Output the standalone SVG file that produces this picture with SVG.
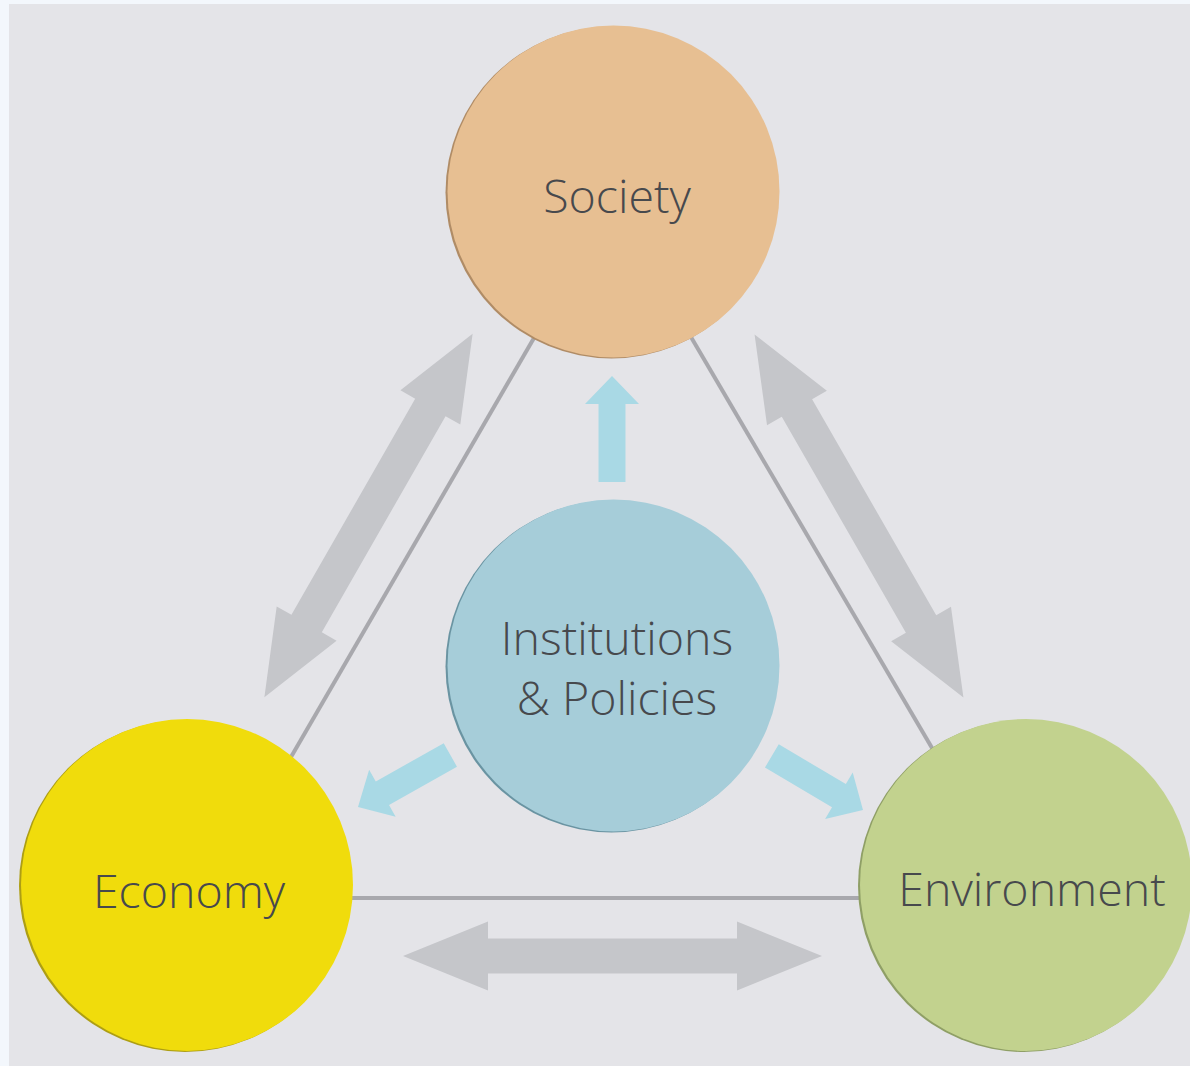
<svg xmlns="http://www.w3.org/2000/svg" width="1190" height="1066" viewBox="0 0 1190 1066">
<defs>
<style>
.lbl{font-family:"Open Sans","Noto Sans","DejaVu Sans",sans-serif;font-size:46.5px;font-weight:340;fill:#47494d;text-anchor:middle}
.tri{stroke:#a8a8ad;stroke-width:4;fill:none}
.garrow{fill:#c5c6ca}
.barrow{fill:#a9d9e5}
</style>
<path id="dbl" d="M-209.5,0 L-124.5,-34.5 L-124.5,-17.5 L124.5,-17.5 L124.5,-34.5 L209.5,0 L124.5,34.5 L124.5,17.5 L-124.5,17.5 L-124.5,34.5 Z"/>
<path id="up" d="M0,0 L27,28 L13.5,28 L13.5,106 L-13.5,106 L-13.5,28 L-27,28 Z"/>
</defs>
<rect x="0" y="0" width="1190" height="1066" fill="#f3f7fc"/>
<rect x="9" y="4" width="1181" height="1062" fill="#e4e4e8"/>
<g id="connectors">
<line class="tri" x1="545" y1="319" x2="280" y2="776"/>
<line class="tri" x1="681" y1="320" x2="942" y2="765"/>
<line class="tri" x1="340" y1="898" x2="875" y2="898"/>
<use href="#dbl" class="garrow" transform="translate(612.5,956)"/>
<use href="#dbl" class="garrow" transform="translate(368.5,515.5) rotate(-60.2)"/>
<use href="#dbl" class="garrow" transform="translate(859,516) rotate(60.1)"/>
<use href="#up" class="barrow" transform="translate(612,376)"/>
<use href="#up" class="barrow" transform="translate(358,807) rotate(-119.4)"/>
<use href="#up" class="barrow" transform="translate(863,810) rotate(120.7)"/>
</g>
<g id="society">
<circle cx="611.5" cy="192.5" r="166" fill="#b08c66"/>
<circle cx="613.5" cy="191.5" r="166" fill="#e7bf92"/>
<text class="lbl" x="617" y="213">Society</text>
</g>
<g id="institutions">
<circle cx="611.5" cy="666.5" r="166" fill="#6a94a2"/>
<circle cx="613.5" cy="665.5" r="166" fill="#a6cdd9"/>
<text class="lbl" x="617" y="655">Institutions</text>
<text class="lbl" x="617" y="715">&amp; Policies</text>
</g>
<g id="economy">
<circle cx="185" cy="886" r="166" fill="#ad9e14"/>
<circle cx="187" cy="885" r="166" fill="#f0dc0c"/>
<text class="lbl" x="189" y="908">Economy</text>
</g>
<g id="environment">
<circle cx="1024" cy="886" r="166" fill="#8f9f66"/>
<circle cx="1026" cy="885" r="166" fill="#c2d28e"/>
<text class="lbl" x="1032" y="906">Environment</text>
</g>
</svg>
